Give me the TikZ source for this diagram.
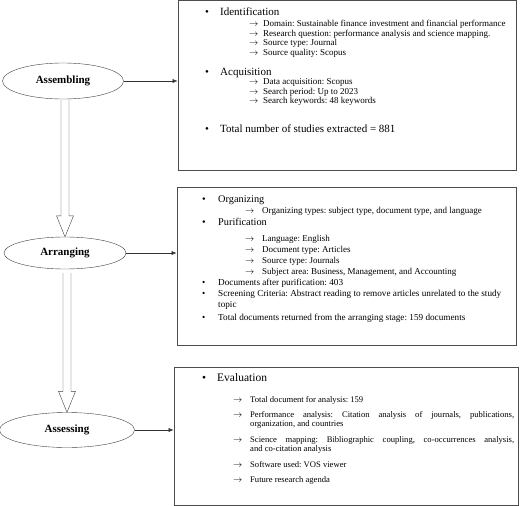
\documentclass[tikz,border=0pt]{standalone}
\usepackage{fontspec}
\setmainfont{Liberation Serif}
\usetikzlibrary{shapes,positioning,arrows.meta}
\frenchspacing

\newcommand{\dotitem}[1]{\makebox[#1][l]{•}}
\newcommand{\toitem}[1]{\makebox[#1][l]{$\rightarrow$}}

\begin{document}
\begin{tikzpicture}
  [x=1pt,y=-1pt,
   stage/.style={ellipse,draw=black!75,inner sep=0pt,font=\bfseries\fontsize{11}{13}\selectfont},
   panel/.style={draw=black!70,line width=.8pt,inner sep=0pt},
   topitem/.style={anchor=base west,inner sep=0pt,font=\fontsize{11}{13}\selectfont},
   subitem/.style={anchor=base west,inner sep=0pt,font=\fontsize{8.6}{9.5}\selectfont},
   link/.style={-{Latex[length=5pt,width=4pt]},black!80},
   hollow/.style={draw=black!75,fill=white}]
  \useasboundingbox (0,0) rectangle (520,506);

  % stages
  \node[stage,minimum width=121pt,minimum height=36pt] (asm) at (63,81) {Assembling};
  \node[stage,minimum width=122pt,minimum height=32pt] (arr) at (65,253) {Arranging};
  \node[stage,minimum width=135pt,minimum height=35pt] (ass) at (67,430) {Assessing};

  % panels
  \node[panel,minimum width=338pt,minimum height=169.5pt] (box1) at (347,85.25) {};
  \node[panel,minimum width=339pt,minimum height=158pt] (box2) at (346.5,266) {};
  \node[panel,minimum width=344pt,minimum height=138pt] (box3) at (346,436) {};

  % assembling
  \foreach \y/\t [count=\i] in {16/Identification,75/Acquisition,132/{Total number of studies extracted = 881}}
    \node[topitem] (asm-top\i) at (205,\y) {\dotitem{15pt}\t};
  \foreach \y/\t [count=\i] in {26.5/{Domain: Sustainable finance investment and financial performance},
      36/{Research question: performance analysis and science mapping.},
      45.5/{Source type: Journal},55/{Source quality: Scopus},
      84.5/{Data acquisition: Scopus},94/{Search period: Up to 2023},103.5/{Search keywords: 48 keywords}}
    \node[subitem,font=\fontsize{9}{10}\selectfont] (asm-sub\i) at (249,\y) {\toitem{14pt}\t};

  % arranging
  \foreach \y/\t [count=\i] in {202/Organizing,225/Purification}
    \node[topitem,font=\fontsize{10.3}{12}\selectfont] (arr-top\i) at (202,\y) {\dotitem{16pt}\t};
  \foreach \y/\t [count=\i] in {285/{Documents after purification: 403},
      320/{Total documents returned from the arranging stage: 159 documents}}
    \node[topitem,font=\fontsize{9.2}{11}\selectfont] (arr-doc\i) at (202,\y) {\dotitem{16pt}\t};
  \node[topitem,font=\fontsize{9.2}{11}\selectfont] (arr-screen) at (202,296)
    {\dotitem{16pt}\parbox[t]{300pt}{\raggedright Screening Criteria: Abstract reading to remove articles unrelated to the study\\topic}};
  \foreach \y/\t [count=\i] in {213/{Organizing types: subject type, document type, and language},
      241/{Language: English},252/{Document type: Articles},263/{Source type: Journals},
      274/{Subject area: Business, Management, and Accounting}}
    \node[subitem,font=\fontsize{9}{10}\selectfont] (arr-sub\i) at (245,\y) {\toitem{17pt}\t};

  % assessing
  \node[topitem,font=\fontsize{11.5}{13}\selectfont] (ass-top) at (202,381) {\dotitem{15pt}Evaluation};
  \foreach \y/\t [count=\i] in {402/{Total document for analysis: 159},467/{Software used: VOS viewer},482/{Future research agenda}}
    \node[subitem] (ass-sub\i) at (233,\y) {\toitem{17pt}\t};
  \node[subitem] (ass-perf) at (233,417)
    {\toitem{17pt}\parbox[t]{264pt}{Performance analysis: Citation analysis of journals, publications,\linebreak organization, and countries}};
  \node[subitem] (ass-map) at (233,442)
    {\toitem{17pt}\parbox[t]{264pt}{Science mapping: Bibliographic coupling, co-occurrences analysis,\linebreak and co-citation analysis}};

  % connectors
  \foreach \s/\b in {asm/box1,arr/box2,ass/box3}
    \draw[link] (\s.east) -- (\s.east -| \b.west);
  \foreach \a/\b/\g in {asm/arr/1,arr/ass/4}
    \draw[hollow] ([xshift=-4pt,yshift=-\g pt]\b.north |- \a.south) -- ([xshift=-4pt,yshift=21pt]\b.north)
      -- ([xshift=-8.5pt,yshift=21pt]\b.north) -- (\b.north) -- ([xshift=8.5pt,yshift=21pt]\b.north)
      -- ([xshift=4pt,yshift=21pt]\b.north) -- ([xshift=4pt,yshift=-\g pt]\b.north |- \a.south);
\end{tikzpicture}
\end{document}
